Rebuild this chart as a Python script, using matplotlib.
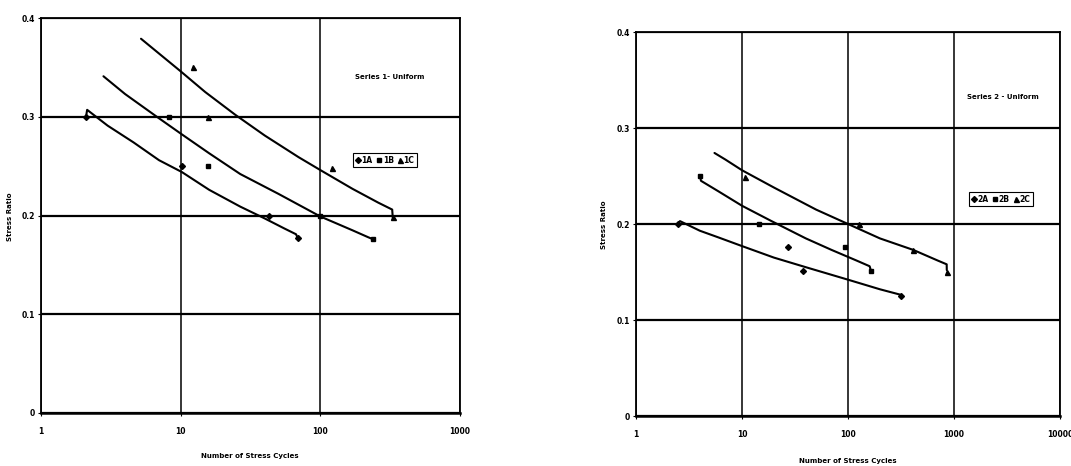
import matplotlib.pyplot as plt
from matplotlib.lines import Line2D

# ---- Series 1 - Uniform (left) : measured points
n_1a = [2.1, 10.3, 43, 69]
sr_1a = [0.30, 0.25, 0.20, 0.177]
n_1b = [8.3, 15.8, 100, 238]
sr_1b = [0.30, 0.25, 0.20, 0.176]
n_1c = [12.2, 15.8, 121, 330]
sr_1c = [0.35, 0.30, 0.248, 0.198]

# trend curves
curve_n_1a = [2.1, 2.14, 3, 4.6, 7, 10.2, 16, 26.7, 40, 55, 67, 69]
curve_sr_1a = [0.30, 0.307, 0.291, 0.274, 0.256, 0.244, 0.226, 0.209, 0.197, 0.187, 0.181, 0.177]
curve_n_1b = [2.8, 4, 6.75, 10, 16, 26.7, 50, 100, 170, 220, 238]
curve_sr_1b = [0.341, 0.323, 0.30, 0.283, 0.263, 0.242, 0.222, 0.199, 0.185, 0.178, 0.176]
curve_n_1c = [5.2, 7, 10, 15, 24.6, 40, 70, 100, 170, 260, 327, 330]
curve_sr_1c = [0.379, 0.364, 0.346, 0.325, 0.302, 0.281, 0.259, 0.246, 0.227, 0.213, 0.206, 0.198]

# ---- Series 2 - Uniform (right) : measured points
n_2a = [2.5, 27, 38, 316]
sr_2a = [0.20, 0.176, 0.151, 0.125]
n_2b = [4.0, 14.6, 94, 164]
sr_2b = [0.25, 0.20, 0.176, 0.151]
n_2c = [10.7, 128, 413, 853]
sr_2c = [0.249, 0.20, 0.173, 0.150]

curve_n_2a = [2.5, 2.6, 4, 6, 10, 20, 40, 100, 200, 321]
curve_sr_2a = [0.201, 0.203, 0.193, 0.186, 0.177, 0.165, 0.155, 0.142, 0.132, 0.126]
curve_n_2b = [4.0, 4.1, 6, 10, 19, 40, 70, 120, 160, 164]
curve_sr_2b = [0.251, 0.245, 0.234, 0.219, 0.203, 0.185, 0.173, 0.162, 0.156, 0.152]
curve_n_2c = [5.5, 7, 10, 20, 50, 100, 200, 413, 700, 853, 855]
curve_sr_2c = [0.274, 0.267, 0.256, 0.238, 0.215, 0.200, 0.185, 0.173, 0.162, 0.158, 0.152]

x_ticks_1 = [1, 10, 100, 1000]
x_ticks_2 = [1, 10, 100, 1000, 10000]
y_ticks = [0, 0.1, 0.2, 0.3, 0.4]
y_tick_labels = ["0", "0.1", "0.2", "0.3", "0.4"]

fig = plt.figure(figsize=(10.71, 4.66), dpi=100)
ax1 = fig.add_axes([41 / 1071, 53 / 466, 419 / 1071, 395 / 466])
ax2 = fig.add_axes([636 / 1071, 50 / 466, 424 / 1071, 384 / 466])


def setup(ax, xticks, xmax):
    ax.set_xscale("log")
    ax.set_xlim(1, xmax)
    ax.set_ylim(0, 0.4)
    ax.set_xticks(xticks)
    ax.set_xticklabels([str(t) for t in xticks], fontweight="bold")
    ax.minorticks_off()
    ax.set_yticks(y_ticks)
    ax.set_yticklabels(y_tick_labels, fontweight="bold")
    ax.grid(True, axis="y", color="black", lw=1.6)
    ax.grid(True, axis="x", color="black", lw=1.1)
    ax.set_axisbelow(True)
    for s in ax.spines.values():
        s.set_color("black")
        s.set_linewidth(1.3)
    ax.spines["bottom"].set_linewidth(1.8)
    ax.tick_params(axis="x", length=2, pad=8, labelsize=5.5)
    ax.tick_params(axis="y", length=2, pad=2.5, labelsize=5.5)
    ax.set_xlabel("Number of Stress Cycles", fontsize=5, fontweight="semibold")
    ax.set_ylabel("Stress Ratio", fontsize=5, fontweight="semibold")


setup(ax1, x_ticks_1, 1000)
setup(ax2, x_ticks_2, 10000)
ax1.xaxis.set_label_coords(0.499, -0.101)
ax1.yaxis.set_label_coords(-0.067, 0.496)
ax2.xaxis.set_label_coords(0.5, -0.109)
ax2.yaxis.set_label_coords(-0.068, 0.497)

lw = 1.5
ms = 3.0
for ax, curves, pts, labels in [
    (ax1,
     [(curve_n_1a, curve_sr_1a), (curve_n_1b, curve_sr_1b), (curve_n_1c, curve_sr_1c)],
     [(n_1a, sr_1a), (n_1b, sr_1b), (n_1c, sr_1c)],
     ["1A", "1B", "1C"]),
    (ax2,
     [(curve_n_2a, curve_sr_2a), (curve_n_2b, curve_sr_2b), (curve_n_2c, curve_sr_2c)],
     [(n_2a, sr_2a), (n_2b, sr_2b), (n_2c, sr_2c)],
     ["2A", "2B", "2C"]),
]:
    for cx, cy in curves:
        ax.plot(cx, cy, color="black", lw=lw, solid_capstyle="round",
                solid_joinstyle="round", zorder=3)
    markers = ["D", "s", "^"]
    sizes = [ms, ms, ms + 0.6]
    handles = []
    for (px, py), m, sz, lab in zip(pts, markers, sizes, labels):
        ax.plot(px, py, ls="none", marker=m, ms=sz, color="black", zorder=4)
        handles.append(Line2D([], [], ls="none", marker=m, ms=sz, color="black", label=lab))
    ax.handles = handles

ax1.text(0.833, 0.851, "Series 1- Uniform", transform=ax1.transAxes,
         ha="center", va="center", fontsize=5, fontweight="semibold")
ax2.text(0.866, 0.831, "Series 2 - Uniform", transform=ax2.transAxes,
         ha="center", va="center", fontsize=5, fontweight="semibold")

for ax, anchor in [(ax1, (0.821, 0.64)), (ax2, (0.861, 0.565))]:
    leg = ax.legend(handles=ax.handles, ncol=3, loc="center", bbox_to_anchor=anchor,
                    prop={"weight": "bold", "size": 5.5},
                    handlelength=0.6, handletextpad=0.2, columnspacing=0.5,
                    borderpad=0.3, borderaxespad=0, fancybox=False, framealpha=1)
    leg.get_frame().set_edgecolor("black")
    leg.get_frame().set_linewidth(0.8)

fig.savefig("out.png", dpi=100)
